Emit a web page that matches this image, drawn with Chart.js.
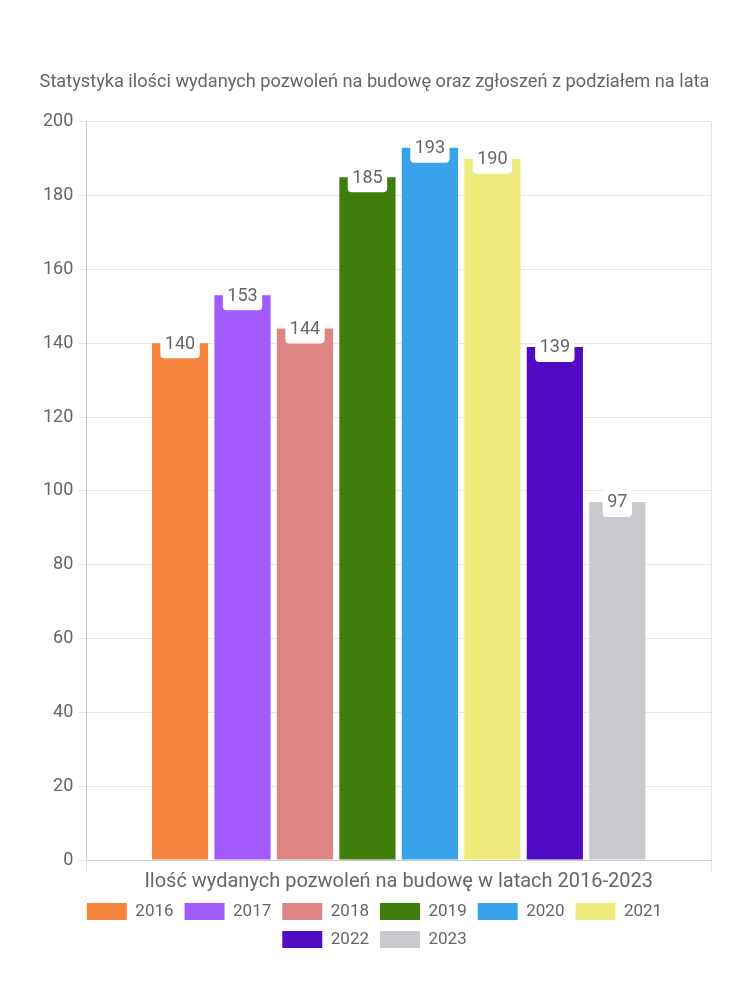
<!DOCTYPE html>
<html>
<head>
<meta charset="utf-8">
<script src="https://cdn.jsdelivr.net/npm/chart.js@4"></script>
<style>
html,body{margin:0;padding:0;background:#fff;}
#wrap{width:750px;height:1000px;}
</style>
</head>
<body>
<div id="wrap"><canvas id="c" width="750" height="1000"></canvas></div>
<script>
const chartTitle = 'Statystyka ilości wydanych pozwoleń na budowę oraz zgłoszeń z podziałem na lata';
const categories = ['Ilość wydanych pozwoleń na budowę w latach 2016-2023'];
const years = ['2016','2017','2018','2019','2020','2021','2022','2023'];
const values = [140, 153, 144, 185, 193, 190, 139, 97];
const colors = ['#F5843F','#A25AFD','#E08585','#3F7D0C','#38A3EB','#F0EB7D','#500BC3','#C9CACE'];
const yTicks = [0,20,40,60,80,100,120,140,160,180,200];

const FONT = 'Roboto, "Noto Sans", sans-serif';

const valueLabels = {
  id: 'valueLabels',
  afterDatasetsDraw(chart) {
    const ctx = chart.ctx;
    ctx.save();
    ctx.font = '18px ' + FONT;
    ctx.textAlign = 'center';
    ctx.textBaseline = 'middle';
    chart.data.datasets.forEach((ds, i) => {
      const meta = chart.getDatasetMeta(i);
      meta.data.forEach((bar, j) => {
        const txt = String(ds.data[j]);
        const w = ctx.measureText(txt).width + 9;
        const x = bar.x - w / 2;
        const top = bar.y - 12;
        const bottom = bar.y + 15;
        const r = 4;
        ctx.fillStyle = '#ffffff';
        ctx.beginPath();
        ctx.moveTo(x, top);
        ctx.lineTo(x + w, top);
        ctx.lineTo(x + w, bottom - r);
        ctx.quadraticCurveTo(x + w, bottom, x + w - r, bottom);
        ctx.lineTo(x + r, bottom);
        ctx.quadraticCurveTo(x, bottom, x, bottom - r);
        ctx.closePath();
        ctx.fill();
        ctx.fillStyle = '#666666';
        ctx.fillText(txt, bar.x, bar.y + 1);
      });
    });
    ctx.restore();
  }
};

new Chart(document.getElementById('c'), {
  type: 'bar',
  data: {
    labels: categories,
    datasets: years.map((y, i) => ({
      label: y,
      data: [values[i]],
      backgroundColor: colors[i],
      borderWidth: 0
    }))
  },
  options: {
    responsive: false,
    animation: false,
    layout: { padding: { top: 72, left: 38, right: 39, bottom: 42 } },
    plugins: {
      title: {
        display: true,
        text: chartTitle,
        color: '#666',
        font: { family: FONT, size: 18.2, weight: 'normal' },
        padding: { top: 0, bottom: 28 }
      },
      legend: {
        position: 'bottom',
        labels: {
          color: '#666',
          font: { family: FONT, size: 17 },
          boxWidth: 40,
          boxHeight: 17,
          padding: 11
        }
      },
      tooltip: { enabled: false }
    },
    scales: {
      x: {
        ticks: { color: '#666', font: { family: FONT, size: 20, lineHeight: 1 }, padding: 0 },
        grid: { color: '#e6e6e6', tickLength: 12 },
        border: { color: '#cccccc' }
      },
      y: {
        min: 0,
        max: 200,
        afterBuildTicks: (axis) => { axis.ticks = yTicks.map(v => ({ value: v })); },
        ticks: { color: '#666', font: { family: FONT, size: 18 }, padding: 5 },
        grid: { color: '#e6e6e6', tickLength: 8 },
        border: { color: '#cccccc' }
      }
    }
  },
  plugins: [valueLabels]
});
</script>
</body>
</html>
